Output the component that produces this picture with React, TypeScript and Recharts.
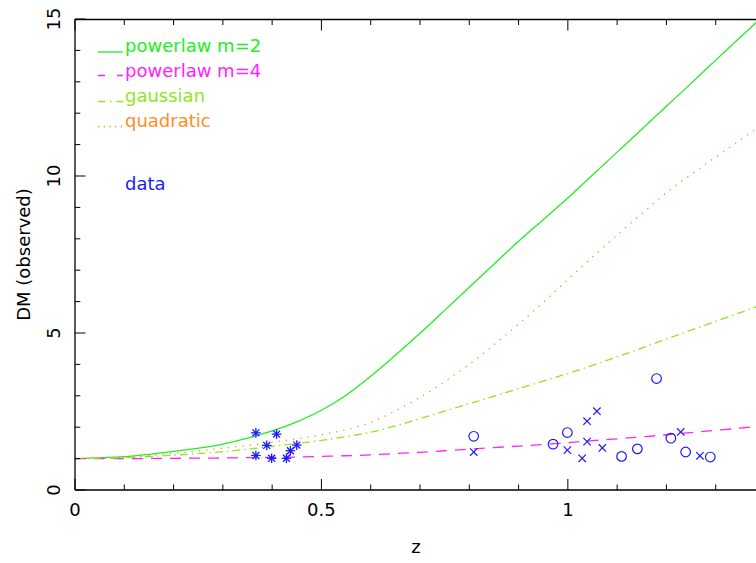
import React from 'react';
import { ComposedChart, Line, Scatter, XAxis, YAxis } from 'recharts';

// ---- data ----
const curveZ = [0, 0.1, 0.2, 0.3, 0.35, 0.4, 0.45, 0.5, 0.55, 0.6, 0.65, 0.7, 0.75, 0.8, 0.85, 0.9, 0.95, 1.0, 1.05, 1.1, 1.15, 1.2, 1.25, 1.3, 1.35, 1.4];
const powerlaw2 = [1.0, 1.06, 1.23, 1.46, 1.65, 1.88, 2.17, 2.54, 3.02, 3.62, 4.29, 4.99, 5.72, 6.46, 7.19, 7.92, 8.61, 9.3, 10.03, 10.76, 11.49, 12.22, 12.95, 13.69, 14.42, 15.15];
const powerlaw4 = [1.0, 1.0, 1.01, 1.02, 1.03, 1.04, 1.05, 1.07, 1.09, 1.12, 1.16, 1.2, 1.25, 1.3, 1.35, 1.4, 1.45, 1.51, 1.57, 1.63, 1.69, 1.76, 1.83, 1.9, 1.97, 2.05];
const gaussian = [1.0, 1.03, 1.11, 1.22, 1.3, 1.39, 1.48, 1.58, 1.7, 1.84, 2.04, 2.27, 2.51, 2.75, 2.99, 3.23, 3.47, 3.71, 3.97, 4.24, 4.52, 4.81, 5.09, 5.37, 5.65, 5.93];
const quadratic = [1.0, 1.04, 1.17, 1.33, 1.42, 1.52, 1.63, 1.76, 1.92, 2.15, 2.52, 2.95, 3.45, 4.0, 4.62, 5.28, 5.98, 6.7, 7.42, 8.12, 8.8, 9.47, 10.05, 10.6, 11.15, 11.68];

const starZ = [0.367, 0.409, 0.389, 0.367, 0.399, 0.429, 0.437, 0.45];
const starDM = [1.82, 1.78, 1.42, 1.1, 1.01, 1.01, 1.25, 1.43];
const crossZ = [0.809, 0.999, 1.029, 1.039, 1.039, 1.059, 1.07, 1.229, 1.268];
const crossDM = [1.21, 1.27, 1.01, 2.19, 1.54, 2.51, 1.34, 1.85, 1.09];
const circleZ = [0.809, 0.97, 0.999, 1.109, 1.141, 1.18, 1.209, 1.239, 1.289];
const circleDM = [1.71, 1.46, 1.83, 1.07, 1.31, 3.55, 1.65, 1.21, 1.05];

const xTicks = [0, 0.1, 0.2, 0.3, 0.4, 0.5, 0.6, 0.7, 0.8, 0.9, 1.0, 1.1, 1.2, 1.3, 1.4];
const yTicks = [0, 1, 2, 3, 4, 5, 6, 7, 8, 9, 10, 11, 12, 13, 14, 15];
const xMajorLabels: Record<string, string> = { '0': '0', '0.5': '0.5', '1': '1' };
const X_DOMAIN: [number, number] = [0, 1.4];
const Y_DOMAIN: [number, number] = [0, 15];

const legendItems = ['powerlaw m=2', 'powerlaw m=4', 'gaussian', 'quadratic'];
const dataLabel = 'data';

// ---- layout & styles ----
const CHART_W = 790;
const CHART_H = 563;
const M_TOP = 19;
const M_RIGHT = 25;
const Y_AXIS_W = 75;
const X_AXIS_H = 73;
const PLOT_W = CHART_W - M_RIGHT - Y_AXIS_W;

const FONT = '"DejaVu Sans", sans-serif';
const C_GREEN = '#22ee22';
const C_MAGENTA = '#ff22ff';
const C_GAUSS = '#8fe61e';
const C_ORANGE = '#ff8c28';
const C_BLUE = '#1a1aff';

const mk = (zs: number[], vs: number[]) => zs.map((z, i) => ({ z, dm: vs[i] }));
const dPow2 = mk(curveZ, powerlaw2);
const dPow4 = mk(curveZ, powerlaw4);
const dGauss = mk(curveZ, gaussian);
const dQuad = mk(curveZ, quadratic);
const dStar = mk(starZ, starDM);
const dCross = mk(crossZ, crossDM);
const dCircle = mk(circleZ, circleDM);

const isMajorX = (v: number) => Math.abs(v * 2 - Math.round(v * 2)) < 1e-6;
const isMajorY = (v: number) => Math.abs(v / 5 - Math.round(v / 5)) < 1e-6;

const BottomTick = (props: any) => {
  const { x, y, payload } = props;
  const v = payload.value;
  const major = isMajorX(v);
  const len = major ? 11 : 5.5;
  const key = String(Math.round(v * 10) / 10);
  return (
    <g>
      <line x1={x} x2={x} y1={y} y2={y - len} stroke="#000" strokeWidth={1} />
      {major && xMajorLabels[key] !== undefined && (
        <text x={x} y={y + 26} textAnchor="middle" fontFamily={FONT} fontSize={18} fill="#000">
          {xMajorLabels[key]}
        </text>
      )}
    </g>
  );
};

const LeftTick = (props: any) => {
  const { x, y, payload } = props;
  const v = payload.value;
  const major = isMajorY(v);
  const cx = x - 21;
  return (
    <g>
      <line x1={x} x2={x + (major ? 10.5 : 5.3)} y1={y} y2={y} stroke="#000" strokeWidth={1} />
      {major && (
        <text
          x={cx}
          y={y}
          dy="0.36em"
          textAnchor="middle"
          transform={`rotate(-90, ${cx}, ${y})`}
          fontFamily={FONT}
          fontSize={18}
          fill="#000"
        >
          {String(v)}
        </text>
      )}
    </g>
  );
};

const StarShape = (props: any) => {
  const { cx, cy } = props;
  const r = 4.8;
  const d = r * 0.72;
  return (
    <g stroke={C_BLUE} strokeWidth={1.3}>
      <line x1={cx - r} y1={cy} x2={cx + r} y2={cy} />
      <line x1={cx} y1={cy - r} x2={cx} y2={cy + r} />
      <line x1={cx - d} y1={cy - d} x2={cx + d} y2={cy + d} />
      <line x1={cx - d} y1={cy + d} x2={cx + d} y2={cy - d} />
    </g>
  );
};

const CrossShape = (props: any) => {
  const { cx, cy } = props;
  const r = 3.7;
  return (
    <g stroke={C_BLUE} strokeWidth={1.2}>
      <line x1={cx - r} y1={cy - r} x2={cx + r} y2={cy + r} />
      <line x1={cx - r} y1={cy + r} x2={cx + r} y2={cy - r} />
    </g>
  );
};

const CircleShape = (props: any) => {
  const { cx, cy } = props;
  return <circle cx={cx} cy={cy} r={4.8} fill="none" stroke={C_BLUE} strokeWidth={1.2} />;
};

const YTitle = (props: any) => {
  const vb = props.viewBox || { x: 0, y: M_TOP, width: Y_AXIS_W, height: 471 };
  const cx = 24;
  const cy = vb.y + vb.height / 2;
  return (
    <text x={cx} y={cy} dy="0.36em" textAnchor="middle" transform={`rotate(-90, ${cx}, ${cy})`}
      fontFamily={FONT} fontSize={18} fill="#000">
      DM (observed)
    </text>
  );
};

const XTitle = (props: any) => {
  const vb = props.viewBox || { x: Y_AXIS_W, y: 490, width: PLOT_W, height: X_AXIS_H };
  return (
    <text x={vb.x + vb.width / 2 - 4} y={vb.y + 63} textAnchor="middle" fontFamily={FONT} fontSize={18} fill="#000">
      z
    </text>
  );
};

// Overlay: legend plus the top frame of the box (same layout constants as the chart).
const Overlay = () => {
  const tx = 125;
  const rows = [52, 76.5, 101.5, 126.5];
  const colors = [C_GREEN, C_MAGENTA, C_GAUSS, C_ORANGE];
  const frameY = M_TOP + 0.5;
  return (
    <svg width={756} height={563} style={{ position: 'absolute', left: 0, top: 0, pointerEvents: 'none', overflow: 'visible' }}>
      <path d={`M ${Y_AXIS_W} ${frameY} H ${Y_AXIS_W + PLOT_W}`} stroke="#000" strokeWidth={1.3} fill="none" />
      {xTicks.map((t) => {
        const px = Y_AXIS_W + (PLOT_W * (t - X_DOMAIN[0])) / (X_DOMAIN[1] - X_DOMAIN[0]);
        return (
          <path key={t} d={`M ${px} ${frameY} V ${frameY + (isMajorX(t) ? 11 : 5.5)}`} stroke="#000" strokeWidth={1} fill="none" />
        );
      })}
      <line x1={98} x2={123} y1={rows[0]} y2={rows[0]} stroke={C_GREEN} strokeWidth={1.3} />
      <line x1={98} x2={123} y1={rows[1] - 1} y2={rows[1] - 1} stroke={C_MAGENTA} strokeWidth={1.3} strokeDasharray="7 12 7" />
      <line x1={98} x2={123} y1={rows[2]} y2={rows[2]} stroke={C_GAUSS} strokeWidth={1.3} strokeDasharray="7 5 1.5 5 7" />
      <line x1={98} x2={123} y1={rows[3]} y2={rows[3]} stroke={C_ORANGE} strokeWidth={1.3} strokeDasharray="1.2 4.5" />
      {legendItems.map((t, i) => (
        <text key={t} x={tx} y={rows[i]} fontFamily={FONT} fontSize={18} fill={colors[i]}>
          {t}
        </text>
      ))}
      <text x={tx} y={189.5} fontFamily={FONT} fontSize={18} fill={C_BLUE}>
        {dataLabel}
      </text>
    </svg>
  );
};

export default function App() {
  return (
    <div style={{ position: 'absolute', left: 0, top: 0, width: 756, height: 563, overflow: 'hidden', background: '#fff' }}>
      <ComposedChart width={CHART_W} height={CHART_H} margin={{ top: M_TOP, right: M_RIGHT, bottom: 0, left: 0 }}>
        <XAxis
          xAxisId="b"
          type="number"
          dataKey="z"
          domain={X_DOMAIN}
          ticks={xTicks}
          interval={0}
          allowDataOverflow
          tick={<BottomTick />}
          tickLine={false}
          tickSize={0}
          tickMargin={0}
          axisLine={{ stroke: '#000', strokeWidth: 1.3 }}
          height={X_AXIS_H}
          label={<XTitle />}
        />
        <YAxis
          yAxisId="l"
          type="number"
          dataKey="dm"
          domain={Y_DOMAIN}
          ticks={yTicks}
          interval={0}
          allowDataOverflow
          tick={<LeftTick />}
          tickLine={false}
          tickSize={0}
          tickMargin={0}
          axisLine={{ stroke: '#000', strokeWidth: 1.3 }}
          width={Y_AXIS_W}
          label={<YTitle />}
        />
        <Line xAxisId="b" yAxisId="l" data={dPow2} dataKey="dm" type="monotone" stroke={C_GREEN} strokeWidth={1.3} dot={false} activeDot={false} isAnimationActive={false} />
        <Line xAxisId="b" yAxisId="l" data={dPow4} dataKey="dm" type="monotone" stroke={C_MAGENTA} strokeWidth={1.3} strokeDasharray="11 8" dot={false} activeDot={false} isAnimationActive={false} />
        <Line xAxisId="b" yAxisId="l" data={dGauss} dataKey="dm" type="monotone" stroke={C_GAUSS} strokeWidth={1.3} strokeDasharray="8 4 1.5 4" dot={false} activeDot={false} isAnimationActive={false} />
        <Line xAxisId="b" yAxisId="l" data={dQuad} dataKey="dm" type="monotone" stroke={C_ORANGE} strokeWidth={1.3} strokeDasharray="1.3 6" dot={false} activeDot={false} isAnimationActive={false} />
        <Scatter xAxisId="b" yAxisId="l" data={dStar} shape={<StarShape />} isAnimationActive={false} />
        <Scatter xAxisId="b" yAxisId="l" data={dCross} shape={<CrossShape />} isAnimationActive={false} />
        <Scatter xAxisId="b" yAxisId="l" data={dCircle} shape={<CircleShape />} isAnimationActive={false} />
      </ComposedChart>
      <Overlay />
    </div>
  );
}
